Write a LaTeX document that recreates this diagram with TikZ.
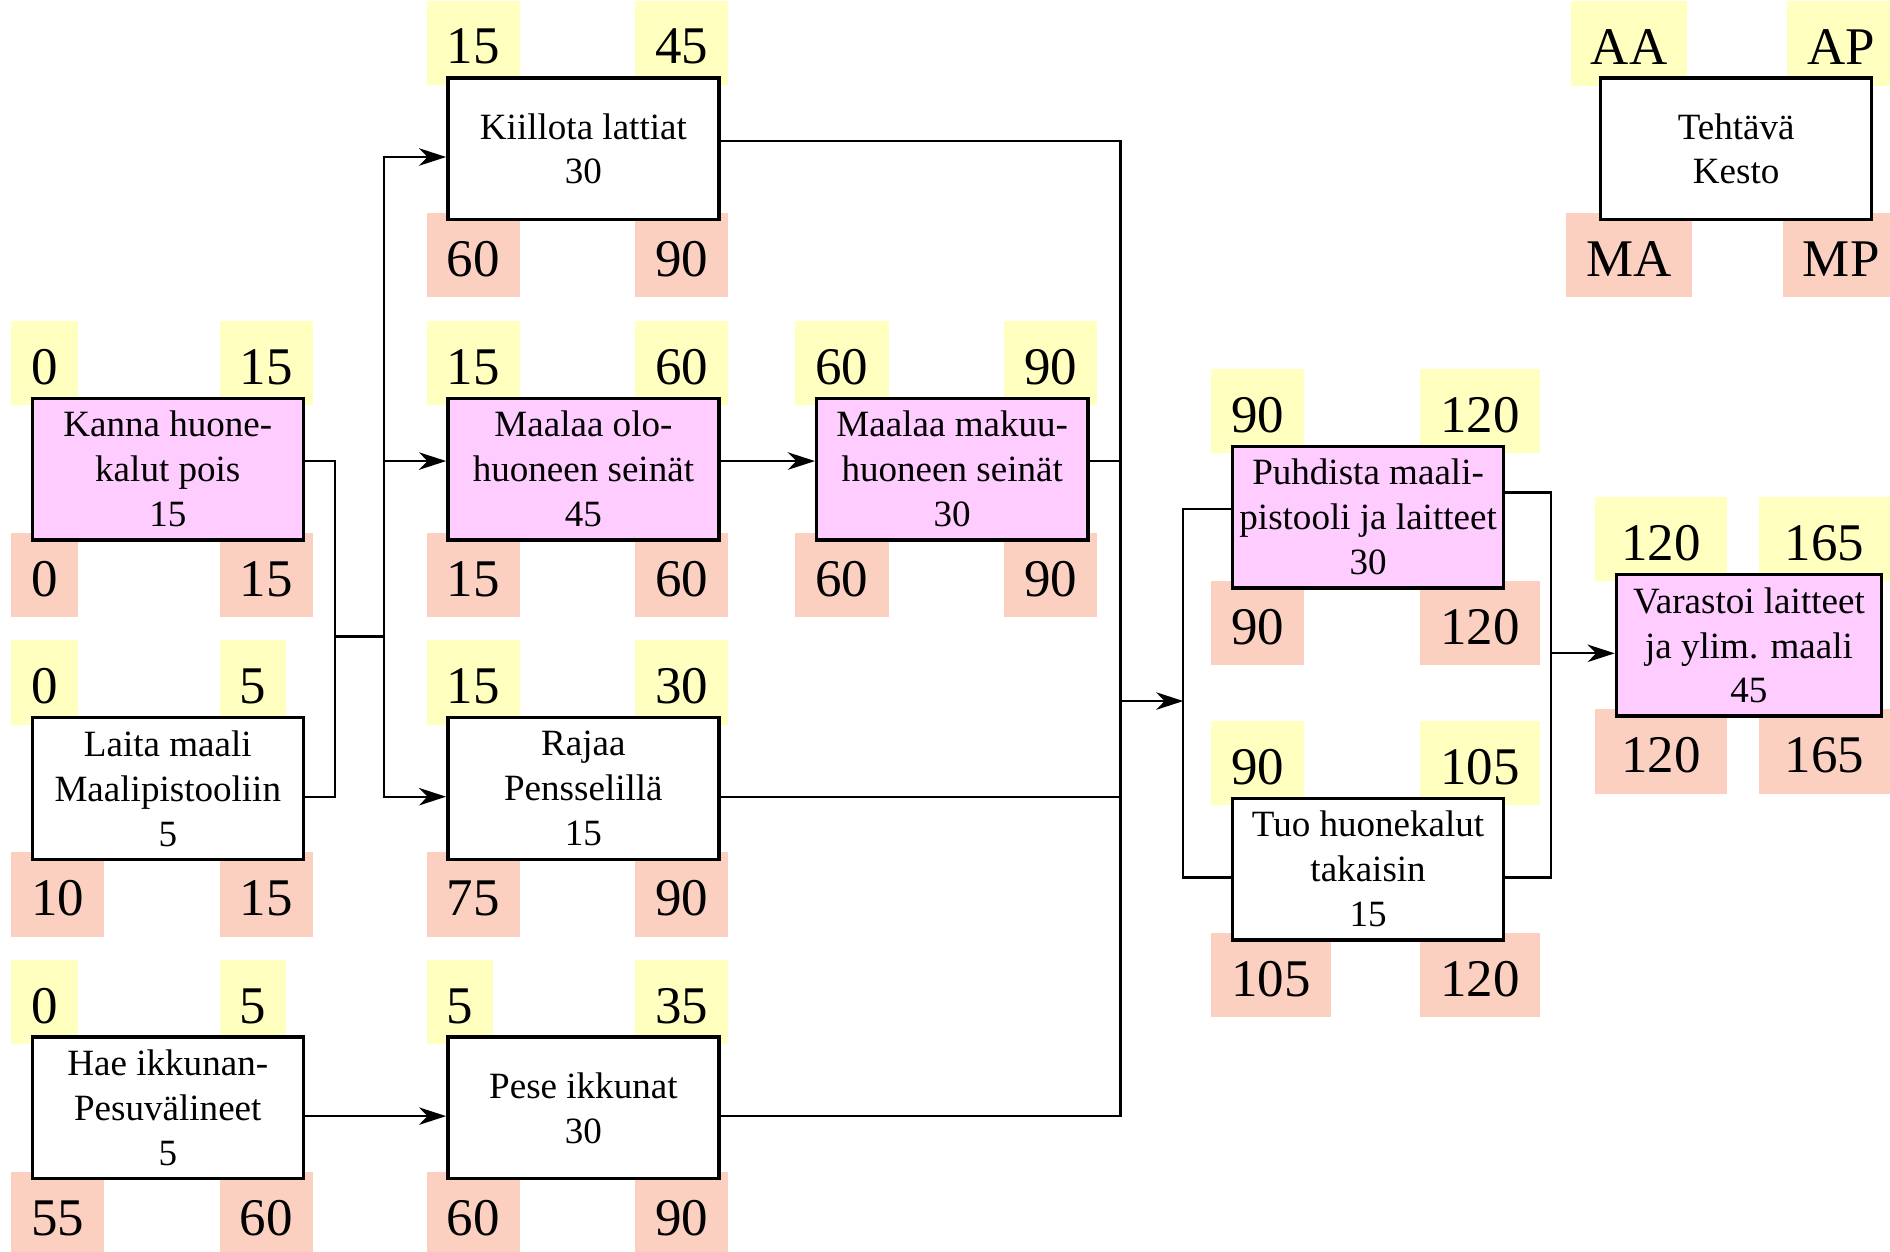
\documentclass[tikz,border=0pt]{standalone}
\usepackage{fontspec}
\setmainfont{Liberation Serif}
\usetikzlibrary{
    positioning,
    backgrounds,
    arrows.meta
    }

\definecolor{aayellow}{RGB}{255,255,192}
\definecolor{masalmon}{RGB}{251,208,193}
\definecolor{critpink}{RGB}{255,204,255}

\begin{document}
\begin{tikzpicture}[x=0.02cm, y=-0.02cm]
\tikzset{task/.style =
        {
            draw,
            line width=1.6pt,
            fill=white,
            minimum width=4.5cm,
            minimum height=2.35cm,
            inner sep=0pt,
            align=center,
            font=\fontsize{17.5}{21.2}\selectfont
        }
}

\tikzset{crit/.style =
        {
            task,
            fill=critpink
        }
}

\tikzset{critnarrow/.style = { crit, minimum width=4.4cm } }

\tikzset{early/.style =
        {
            fill=aayellow,
            minimum height=1.4cm,
            inner xsep=9.5pt,
            inner ysep=0pt,
            text height=20pt,
            text depth=0pt,
            font=\fontsize{25}{30}\selectfont
        }
}

\tikzset{late/.style = { early, fill=masalmon } }

\tikzset{link/.style = { line width=1.1pt } }

\tikzset{flow/.style = {
            link,
            -{Stealth[length=4.5mm, width=2.9mm, inset=1.4mm]}
        }
}
		\useasboundingbox (0,0) rectangle (1568,1038);

		\foreach \id / \x / \y / \kind / \txt in
			{kanna/139.2/389.25/crit/{Kanna huone-\\kalut pois\\15},
				laita/139.2/654.2/task/{Laita maali\\Maalipistooliin\\5},
				hae/139.2/919.2/task/{Hae ikkunan-\\Pesuvälineet\\5},
				kiillota/484/123.5/task/{Kiillota lattiat\\30},
				olo/484/389.25/crit/{Maalaa olo-\\huoneen seinät\\45},
				rajaa/484/654.2/task/{Rajaa\\Pensselillä\\15},
				pese/484/919.2/task/{Pese ikkunat\\30},
				makuu/790/389.25/crit/{Maalaa makuu-\\huoneen seinät\\30},
				puhdista/1135/429/crit/{Puhdista maali-\\pistooli ja laitteet\\30},
				tuo/1135/721/task/{Tuo huonekalut\\takaisin\\15},
				varastoi/1451/535.4/critnarrow/{Varastoi laitteet\\ja ylim. maali\\45},
				key/1440.4/123.5/task/{Tehtävä\\Kesto}}
		\node[\kind] (\id) at (\x,\y) {\txt};

		\begin{scope}[on background layer]
			\foreach \id / \aa / \ap / \ma / \mp / \dx / \w in
				{kanna/0/15/0/15/3.132/0,
					laita/0/5/10/15/3.132/0,
					hae/0/5/55/60/3.132/0,
					kiillota/15/45/60/90/3.132/0,
					olo/15/60/15/60/3.132/0,
					rajaa/15/30/75/90/3.132/0,
					pese/5/35/60/90/3.132/0,
					makuu/60/90/60/90/3.132/0,
					puhdista/90/120/90/120/3.132/0,
					tuo/90/105/105/120/3.132/0,
					varastoi/120/165/120/165/2.38/2.18}
				{
					\node[early, minimum width=\w cm, anchor=south west] (\id-aa) at ([shift={(-0.332cm,-0.15cm)}]\id.north west) {\aa};
					\node[early, minimum width=\w cm, anchor=south west] (\id-ap) at ([shift={(\dx cm,-0.15cm)}]\id.north west) {\ap};
					\node[late, minimum width=\w cm, anchor=north west] (\id-ma) at ([shift={(-0.332cm,0.15cm)}]\id.south west) {\ma};
					\node[late, minimum width=\w cm, anchor=north west] (\id-mp) at ([shift={(\dx cm,0.15cm)}]\id.south west) {\mp};
				}

			\node[early, anchor=south] (key-aa) at ([shift={(0.5cm,-0.16cm)}]key.north west) {AA};
			\node[early, anchor=south] (key-ap) at ([shift={(-0.536cm,-0.16cm)}]key.north east) {AP};
			\node[late, anchor=north] (key-ma) at ([shift={(0.5cm,0.15cm)}]key.south west) {MA};
			\node[late, anchor=north] (key-mp) at ([shift={(-0.536cm,0.15cm)}]key.south east) {MP};
		\end{scope}

		\coordinate (join1) at (278,528);
		\coordinate (split1) at (318.3,528);
		\coordinate (merge1) at (929.5,581.6);
		\coordinate (split2) at (981.7,581.6);
		\coordinate (merge2) at (1287,542);

		\draw [link] ([yshift=1.35mm]kanna.east) -| (join1);
		\draw [link] ([yshift=-1.35mm]laita.east) -| (join1);
		\draw [link] (join1) -- (split1);
		\draw [flow] (split1) |- ([yshift=-1.35mm]kiillota.west);
		\draw [flow] (split1) |- ([yshift=1.35mm]olo.west);
		\draw [flow] (split1) |- ([yshift=-1.35mm]rajaa.west);

		\draw [flow] ([yshift=1.35mm]olo.east) -- ([yshift=1.35mm]makuu.west);
		\draw [flow] ([yshift=-1.35mm]hae.east) -- ([yshift=-1.35mm]pese.west);

		\foreach \from / \dy in {kiillota/1.3, makuu/1.35, rajaa/-1.35, pese/-1.35}
		\draw [link] ([yshift=\dy mm]\from.east) -| (merge1);
		\draw [flow] (merge1) -- (split2);

		\draw [link] (split2) |- ([yshift=1.4mm]puhdista.west);
		\draw [link] (split2) |- ([yshift=-1.4mm]tuo.west);

		\draw [link] ([yshift=4.1mm]puhdista.east) -| (merge2);
		\draw [link] ([yshift=-1.4mm]tuo.east) -| (merge2);
		\draw [flow] (merge2) -- (merge2 -| varastoi.west);

	\end{tikzpicture}
\end{document}
